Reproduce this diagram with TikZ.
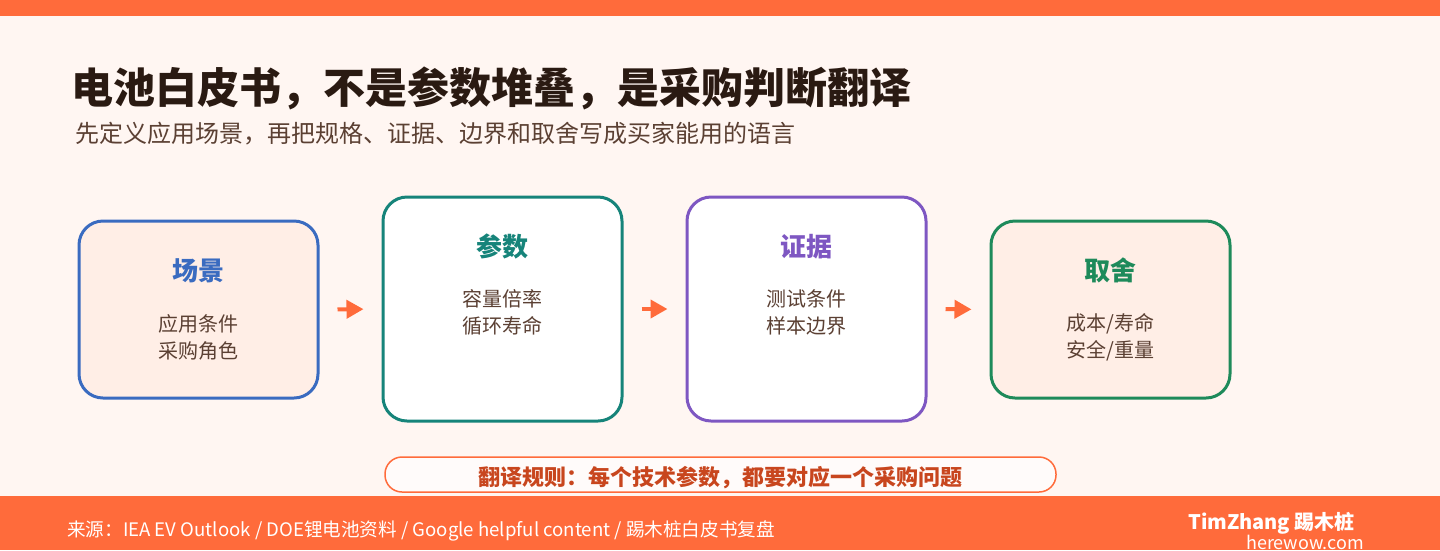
\documentclass[tikz,border=0pt]{standalone}
\usepackage{fontspec}
\setmainfont{Noto Sans CJK SC}
\usetikzlibrary{arrows.meta}
\definecolor{brand}{HTML}{FF6B3B}
\definecolor{bgcol}{HTML}{FFF6F2}
\definecolor{peach}{HTML}{FFEEE6}
\definecolor{titlecol}{HTML}{2A1A12}
\definecolor{subcol}{HTML}{5B4033}
\definecolor{bluec}{HTML}{3A6BC0}
\definecolor{tealc}{HTML}{16847A}
\definecolor{purplec}{HTML}{7E57C2}
\definecolor{greenc}{HTML}{1E8A5A}
\definecolor{ruletext}{HTML}{C8461E}
\tikzset{
  card/.style={draw=#1, line width=3pt, rounded corners=24pt, minimum width=239pt, inner sep=0pt},
  cardtitle/.style={font=\fontsize{26}{30}\selectfont\bfseries, text=#1, inner sep=0pt},
  cardbody/.style={font=\fontsize{20}{27}\selectfont, text=subcol, align=center, inner sep=0pt},
  flowarrow/.style={draw=brand, line width=4pt, -{Triangle[length=17pt,width=18pt]}, shorten <=18pt, shorten >=18pt},
}
\begin{document}
\begin{tikzpicture}[x=1pt,y=-1pt]
\fill[bgcol] (0,0) rectangle (1440,550);
\useasboundingbox (0,0) rectangle (1440,550);
\fill[brand] (0,0) rectangle (1440,16);
\fill[brand] (0,496) rectangle (1440,550);

\node[anchor=west, inner sep=0pt, font=\fontsize{42}{48}\selectfont\bfseries, text=titlecol] (title) at (71,88) {电池白皮书，不是参数堆叠，是采购判断翻译};
\node[anchor=west, inner sep=0pt, font=\fontsize{24}{28}\selectfont, text=subcol] (subtitle) at (75,134) {先定义应用场景，再把规格、证据、边界和取舍写成买家能用的语言};

\node[card=bluec, fill=peach, minimum height=177pt] (b1) at (198.5,309.5) {};
\node[card=tealc, fill=white, minimum height=224pt] (b2) at (502.5,309) {};
\node[card=purplec, fill=white, minimum height=224pt] (b3) at (806.5,309) {};
\node[card=greenc, fill=peach, minimum height=177pt] (b4) at (1110.5,309.5) {};

\node[cardtitle=bluec] (t1) at ([yshift=-51pt]b1.north) {场景};
\node[cardbody] (d1) at ([yshift=-117.5pt]b1.north) {应用条件\\采购角色};
\node[cardtitle=tealc] (t2) at ([yshift=-51pt]b2.north) {参数};
\node[cardbody] (d2) at ([yshift=-117pt]b2.north) {容量倍率\\循环寿命};
\node[cardtitle=purplec] (t3) at ([yshift=-51pt]b3.north) {证据};
\node[cardbody] (d3) at ([yshift=-117pt]b3.north) {测试条件\\样本边界};
\node[cardtitle=greenc] (t4) at ([yshift=-51pt]b4.north) {取舍};
\node[cardbody] (d4) at ([yshift=-117.5pt]b4.north) {成本/寿命\\安全/重量};

\draw[flowarrow] (b1.east) -- (b2.west);
\draw[flowarrow] (b2.east) -- (b3.west);
\draw[flowarrow] (b3.east) -- (b4.west);

\node[draw=brand, line width=1.5pt, fill=white!60!bgcol, rounded corners=17pt, minimum width=671pt, minimum height=35pt, inner sep=0pt] (pill) at (720.5,474.5) {};
\node[inner sep=0pt, font=\fontsize{22}{26}\selectfont\bfseries, text=ruletext] (rule) at (720.5,478) {翻译规则：每个技术参数，都要对应一个采购问题};

\node[anchor=west, inner sep=0pt, font=\fontsize{18.6}{22}\selectfont, text=white] (src) at (67,531) {来源：IEA EV Outlook / DOE锂电池资料 / Google helpful content / 踢木桩白皮书复盘};
\node[anchor=west, inner sep=0pt, font=\fontsize{20}{22}\selectfont\bfseries, text=white] (brandname) at (1188,523) {TimZhang 踢木桩};
\node[anchor=west, inner sep=0pt, font=\fontsize{18}{22}\selectfont, text=white] (site) at (1246,542) {herewow.com};
\end{tikzpicture}
\end{document}
